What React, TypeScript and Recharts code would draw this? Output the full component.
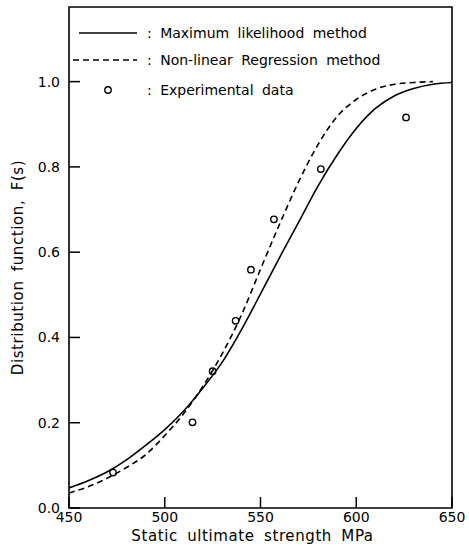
import {
  ComposedChart,
  Line,
  Scatter,
  XAxis,
  YAxis,
  ReferenceArea,
} from "recharts";

// Static ultimate strength (MPa) sampling for the fitted curves.
const STRENGTH = [
  450, 460, 470, 480, 490, 500, 510, 520, 530, 540, 550, 560, 570, 580, 590,
  600, 610, 620, 630, 640, 650,
];
// Maximum likelihood fit, F(s)
const ML_F = [
  0.047, 0.064, 0.085, 0.113, 0.147, 0.184, 0.228, 0.282, 0.342, 0.418, 0.502,
  0.588, 0.671, 0.755, 0.828, 0.89, 0.937, 0.967, 0.984, 0.994, 0.998,
];
// Non-linear regression fit, F(s) (ends at 640)
const NLR_F = [
  0.035, 0.05, 0.07, 0.095, 0.125, 0.17, 0.222, 0.286, 0.362, 0.452, 0.56,
  0.666, 0.766, 0.852, 0.918, 0.958, 0.982, 0.994, 0.998, 1.0,
];
// Experimental data
const EXP_S = [473, 514.5, 525, 537, 545, 557, 581.5, 626];
const EXP_F = [0.083, 0.201, 0.321, 0.439, 0.559, 0.677, 0.795, 0.916];

const X_TICKS = [450, 500, 550, 600, 650];
const Y_TICKS = [0, 0.2, 0.4, 0.6, 0.8, 1.0];

const mlData = STRENGTH.map((x, i) => ({ x, y: ML_F[i] }));
const nlrData = NLR_F.map((y, i) => ({ x: STRENGTH[i], y }));
const expData = EXP_S.map((x, i) => ({ x, y: EXP_F[i] }));

const FONT = "'DejaVu Sans', sans-serif";
const INK = "#000";
const TITLE_STYLE = { fontSize: 15, fontFamily: FONT, fill: INK, letterSpacing: 0.6, wordSpacing: 4 } as const;

function XTick({ x, y, payload }: any) {
  return (
    <g>
      <line x1={x} y1={y} x2={x} y2={y - 11} stroke={INK} strokeWidth={1.5} />
      <text x={x} y={y + 14} textAnchor="middle" fontSize={14} fontFamily={FONT} fill={INK}>
        {payload.value}
      </text>
    </g>
  );
}

function YTick({ x, y, payload }: any) {
  return (
    <g>
      <line x1={x} y1={y} x2={x + 11} y2={y} stroke={INK} strokeWidth={1.5} />
      <text x={x - 9} y={y + 5} textAnchor="end" fontSize={14} fontFamily={FONT} fill={INK}>
        {payload.value.toFixed(1)}
      </text>
    </g>
  );
}

const Ring = (props: any) => (
  <circle cx={props.cx} cy={props.cy} r={3.2} fill="none" stroke={INK} strokeWidth={1.4} />
);

function XTitle({ viewBox }: any) {
  return (
    <text x={viewBox.x + viewBox.width / 2 - 8} y={viewBox.y + viewBox.height - 5} textAnchor="middle" {...TITLE_STYLE}>
      Static ultimate strength MPa
    </text>
  );
}

function YTitle({ viewBox }: any) {
  const cx = viewBox.x + 23;
  const cy = viewBox.y + viewBox.height / 2 + 10;
  return (
    <text x={cx} y={cy} transform={`rotate(-90 ${cx} ${cy})`} textAnchor="middle" {...TITLE_STYLE}>
      Distribution function, F(s)
    </text>
  );
}

function LegendBox() {
  const text = { fontSize: 14, fontFamily: FONT, fill: INK, wordSpacing: 4 } as const;
  return (
    <svg width={469} height={110} style={{ position: "absolute", left: 0, top: 0 }}>
      <line x1={79} y1={33} x2={137} y2={33} stroke={INK} strokeWidth={1.5} />
      <text x={147} y={38} {...text}>: Maximum likelihood method</text>
      <line x1={73} y1={60} x2={137} y2={60} stroke={INK} strokeWidth={1.5} strokeDasharray="6 4" />
      <text x={147} y={65} {...text}>: Non-linear Regression method</text>
      <circle cx={108} cy={90} r={3.2} fill="none" stroke={INK} strokeWidth={1.4} />
      <text x={147} y={95} {...text}>: Experimental data</text>
    </svg>
  );
}

export default function App() {
  return (
    <div style={{ position: "absolute", left: 0, top: 0, width: 469, height: 546, background: "#fff" }}>
      <ComposedChart width={469} height={546} margin={{ top: 7, right: 17, left: 0, bottom: 0 }}>
        <XAxis
          dataKey="x"
          type="number"
          domain={[450, 650]}
          ticks={X_TICKS}
          tickSize={0}
          tickMargin={0}
          axisLine={false}
          tick={<XTick />}
          height={38}
          allowDataOverflow
          label={<XTitle />}
        />
        <YAxis
          dataKey="y"
          type="number"
          domain={[0, 1.175]}
          ticks={Y_TICKS}
          tickSize={0}
          tickMargin={0}
          axisLine={false}
          tick={<YTick />}
          width={69}
          allowDataOverflow
          label={<YTitle />}
        />
        <ReferenceArea x1={450} x2={650} y1={0} y2={1.175} fill="none" stroke={INK} strokeWidth={1.6} ifOverflow="visible" />
        <Line data={mlData} dataKey="y" type="monotone" stroke={INK} strokeWidth={1.6} dot={false} isAnimationActive={false} />
        <Line data={nlrData} dataKey="y" type="monotone" stroke={INK} strokeWidth={1.6} strokeDasharray="6 4" dot={false} isAnimationActive={false} />
        <Scatter data={expData} dataKey="y" shape={<Ring />} isAnimationActive={false} />
      </ComposedChart>
      <LegendBox />
    </div>
  );
}
